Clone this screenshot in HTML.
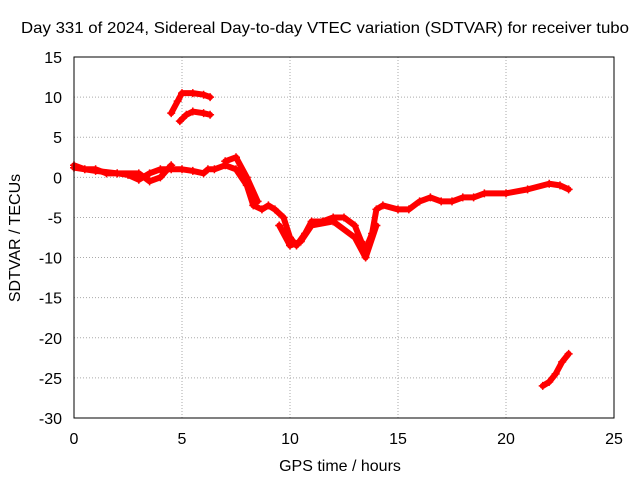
<!DOCTYPE html>
<html><head><meta charset="utf-8"><style>
body{margin:0;background:#fff}
svg{display:block;font-family:"Liberation Sans",sans-serif;font-size:16px}
</style></head><body>
<svg id="chart" width="640" height="480">
<text x="325" y="33" text-anchor="middle" textLength="608" lengthAdjust="spacingAndGlyphs">Day 331 of 2024, Sidereal Day-to-day VTEC variation (SDTVAR) for receiver tubo</text>
<text x="340" y="471" text-anchor="middle">GPS time / hours</text>
<text transform="translate(20,238) rotate(-90)" text-anchor="middle">SDTVAR / TECUs</text>
<g id="grid"></g><g id="ticks"></g><g id="marks"></g>
<rect x="74" y="57" width="540" height="361" fill="none" stroke="#000"/>
</svg>
<script>
const xTicks=[0,5,10,15,20,25];
const yTicks=[15,10,5,0,-5,-10,-15,-20,-25,-30];
const mainT=[0,0.5,1,1.5,2,2.5,3,3.5,4,4.5,5,5.5,6,6.2,6.5,7,7.5,8,8.3,8.7,9,9.3,9.7,10,10.3,10.7,11,11.5,12,12.5,13,13.3,13.5,13.8,14,14.3,15,15.5,16,16.5,17,17.5,18,18.5,19,20,21,22,22.5,22.9];
const mainV=[1.5,1,1,0.5,0.5,0.3,-0.3,0.5,1,1,1,0.8,0.5,1,1,1.5,1,-1,-3.5,-4,-3.5,-4,-5,-7.5,-8.5,-7,-5.5,-5.5,-5,-5,-6,-8,-9,-7,-4,-3.5,-4,-4,-3,-2.5,-3,-3,-2.5,-2.5,-2,-2,-1.5,-0.8,-1,-1.5];
const b1T=[0,1,2,3,3.5,4,4.5];
const b1V=[1.2,0.8,0.5,0.5,-0.5,0,1.5];
const b2T=[4.5,4.8,5,5.5,6,6.3];
const b2V=[8,9.5,10.5,10.5,10.3,10];
const b3T=[4.9,5.2,5.5,6,6.3];
const b3V=[7,7.8,8.2,8,7.8];
const b4T=[7,7.5,8,8.5];
const b4V=[2,2.5,0,-3];
const b5T=[9.5,10,10.5,11,12,13,13.5,14];
const b5V=[-6,-8.5,-8,-6,-5.5,-7.5,-10,-6];
const b6T=[21.7,22,22.3,22.6,22.9];
const b6V=[-26,-25.5,-24.5,-23,-22];
const X=t=>74+t/25*540, Y=v=>57+(15-v)/45*361;
const ns="http://www.w3.org/2000/svg";
function mk(tag,attrs,parent){const e=document.createElementNS(ns,tag);for(const k in attrs)e.setAttribute(k,attrs[k]);document.getElementById(parent).appendChild(e);return e;}
xTicks.forEach(t=>{
 const g=mk('line',{x1:X(t),x2:X(t),y1:57,y2:418,stroke:'#aaa','stroke-dasharray':'1,2'},'grid');
 
 
 const l=mk('text',{x:X(t),y:444,'text-anchor':'middle'},'ticks');l.textContent=t;
 
 
});
yTicks.forEach(v=>{
 const g=mk('line',{x1:74,x2:614,y1:Y(v),y2:Y(v),stroke:'#aaa','stroke-dasharray':'1,2'},'grid');
 
 
 const l=mk('text',{x:62,y:Y(v)+6,'text-anchor':'end'},'ticks');l.textContent=v;
 
 
});
[[mainT,mainV],[b1T,b1V],[b2T,b2V],[b3T,b3V],[b4T,b4V],[b5T,b5V],[b6T,b6V]].forEach(([T,V],i)=>{
 const p=mk('polyline',{points:T.map((t,j)=>X(t)+','+Y(V[j])).join(' '),fill:'none',stroke:'#f00','stroke-width':6,'stroke-linejoin':'round','stroke-linecap':'round'},'marks');
 
 
 T.forEach((t,j)=>{
  const m=mk('path',{d:`M${X(t)-4},${Y(V[j])}h8M${X(t)},${Y(V[j])-4}v8`,stroke:'#f00','stroke-width':1.5},'marks');
  
  
 });
});
</script>
</body></html>
